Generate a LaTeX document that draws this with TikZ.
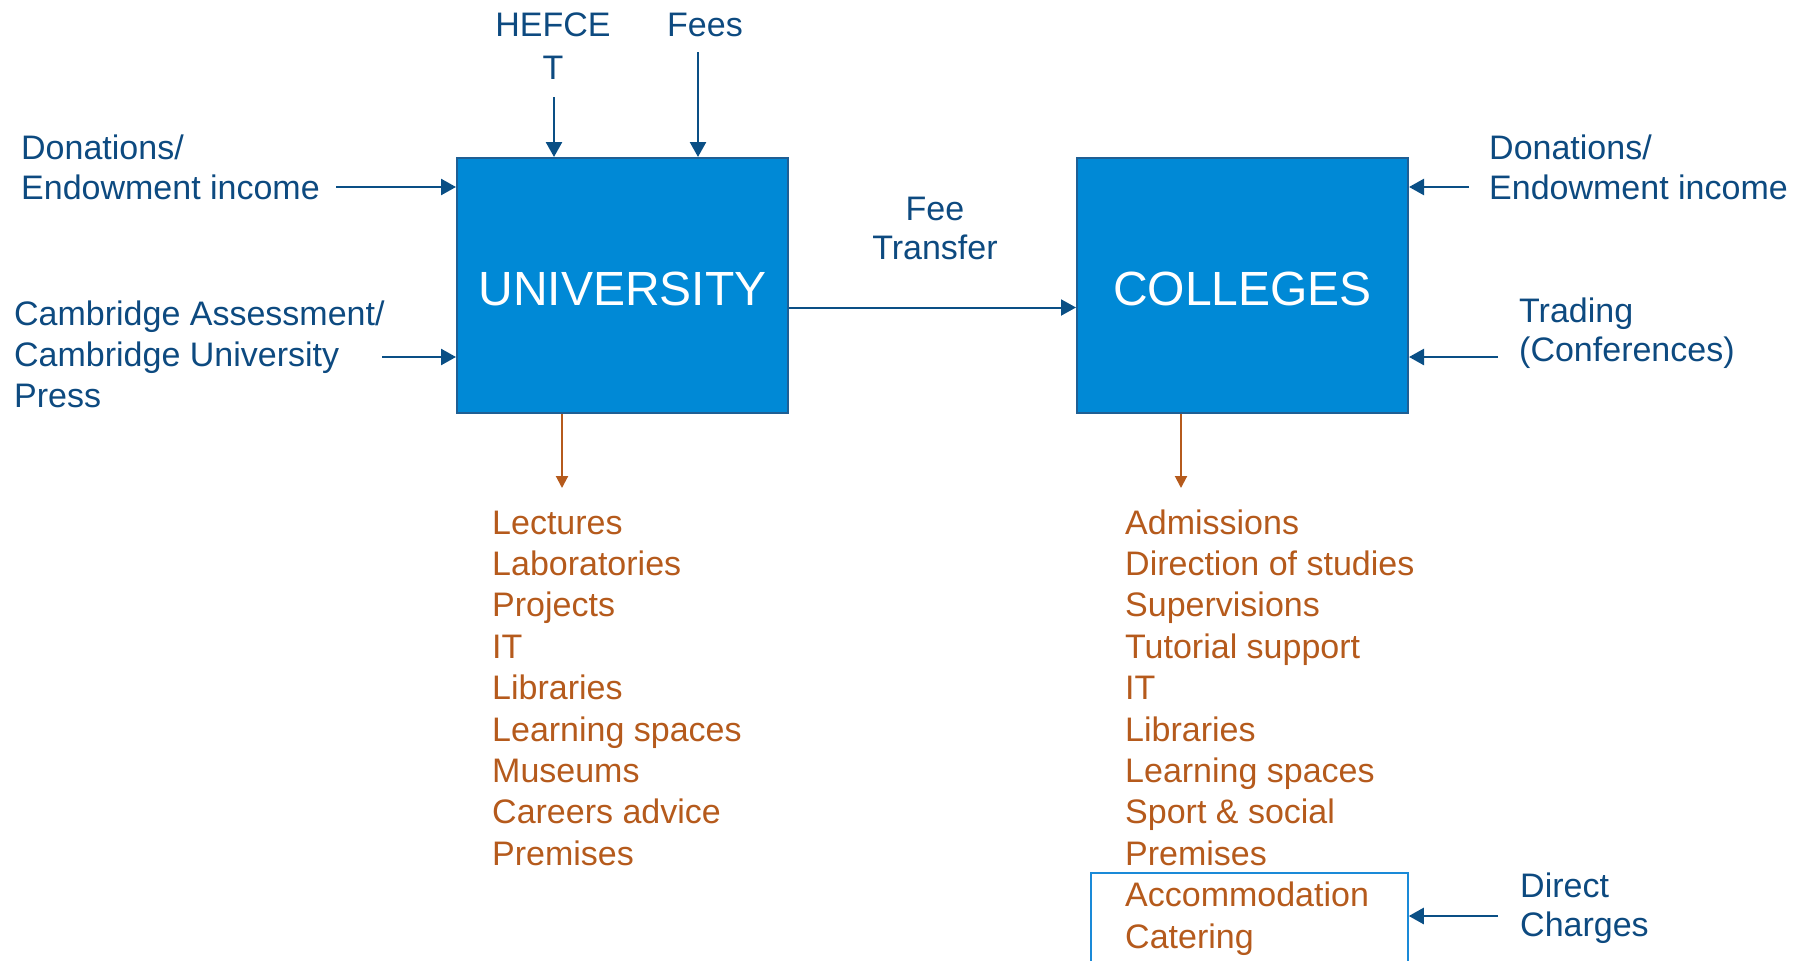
\documentclass[tikz,border=0pt]{standalone}
\usepackage{fontspec}
\setmainfont{Liberation Sans}
\usetikzlibrary{arrows.meta,calc}
\definecolor{boxfill}{HTML}{0089D6}
\definecolor{boxborder}{HTML}{1F5F94}
\definecolor{arrowblue}{HTML}{0A4F85}
\definecolor{textblue}{HTML}{0D4A80}
\definecolor{costorange}{HTML}{B55A1C}
\definecolor{listframe}{HTML}{1A8AD8}
\tikzset{
  bigbox/.style={draw=boxborder, line width=2pt, fill=boxfill, minimum width=331pt, minimum height=255pt, inner sep=0pt, text=white, font=\fontsize{48}{56}\selectfont},
  intext/.style={inner sep=0pt, text=textblue, align=left, anchor=north west},
  costlist/.style={inner sep=0pt, text=costorange, align=left, anchor=north west, font=\fontsize{34}{41.4}\selectfont},
  inarrow/.style={draw=arrowblue, line width=2.5pt, -{Triangle[width=16pt,length=15pt]}},
  outarrow/.style={draw=costorange, line width=2pt, -{Triangle[width=12pt,length=12pt]}},
}
\begin{document}
\begin{tikzpicture}[x=1pt,y=-1pt]
\useasboundingbox (0,0) rectangle (1810,961);
% main boxes
\node[bigbox] (univ) at (622.5,285.5) {\raisebox{-3pt}[\height][\depth]{UNIVERSITY}};
\node[bigbox] (coll) at (1242.5,285.5) {\raisebox{-3pt}[\height][\depth]{COLLEGES}};
% income labels
\node[intext, anchor=north, align=center, font=\fontsize{34}{43}\selectfont] (hefce) at (553,5.9) {\strut HEFCE\\T};
\node[intext, anchor=north, align=center, font=\fontsize{34}{43}\selectfont] (fees) at (705,5.9) {\strut Fees};
\node[intext, font=\fontsize{34}{40}\selectfont] (don1) at (21,131) {\strut Donations/\\Endowment income};
\node[intext, font=\fontsize{34}{41}\selectfont] (cam) at (14,296.3) {\strut Cambridge Assessment/\\Cambridge University\\Press};
\node[intext, anchor=north, align=center, font=\fontsize{34}{39.5}\selectfont] (fee) at (935,192.4) {\strut Fee\\Transfer};
\node[intext, font=\fontsize{34}{40}\selectfont] (don2) at (1489,131) {\strut Donations/\\Endowment income};
\node[intext, font=\fontsize{34}{39}\selectfont] (trad) at (1519,294.7) {\strut Trading\\(Conferences)};
\node[intext, font=\fontsize{34}{39}\selectfont] (direct) at (1520,869.7) {\strut Direct\\Charges};
% cost lists
\node[costlist] (ulist) at (492,505) {\strut Lectures\\Laboratories\\Projects\\IT\\Libraries\\Learning spaces\\Museums\\Careers advice\\Premises};
\node[costlist] (clist) at (1125,505) {\strut Admissions\\Direction of studies\\Supervisions\\Tutorial support\\IT\\Libraries\\Learning spaces\\Sport \& social\\Premises\\Accommodation\\Catering};
% frame round direct-charge items (runs off the page bottom)
\node[draw=listframe, line width=1.5pt, inner sep=0pt, minimum width=317pt, minimum height=120pt] (dframe) at (1249.5,933) {};
% arrow start points
\coordinate (hefceS) at (554,97);
\coordinate (feesS) at (698,52);
\coordinate (don1S) at (336,187);
\coordinate (camS) at (382,357);
\coordinate (don2S) at (1469,187);
\coordinate (tradS) at (1498,357);
\coordinate (directS) at (1498,916);
\coordinate (uout) at (562,488);
\coordinate (cout) at (1181,488);
% incoming arrows
\draw[inarrow] (hefceS) -- (hefceS |- univ.north);
\draw[inarrow] (feesS) -- (feesS |- univ.north);
\draw[inarrow] (don1S) -- (don1S -| univ.west);
\draw[inarrow] (camS) -- (camS -| univ.west);
\draw[inarrow] (don2S) -- (don2S -| coll.east);
\draw[inarrow] (tradS) -- (tradS -| coll.east);
\draw[inarrow] (directS) -- (directS -| dframe.east);
\draw[inarrow, line width=2pt] ($(univ.east)+(0,22)$) -- ($(coll.west)+(0,22)$);
% outgoing arrows
\draw[outarrow] (uout |- univ.south) -- (uout);
\draw[outarrow] (cout |- coll.south) -- (cout);
\end{tikzpicture}
\end{document}
